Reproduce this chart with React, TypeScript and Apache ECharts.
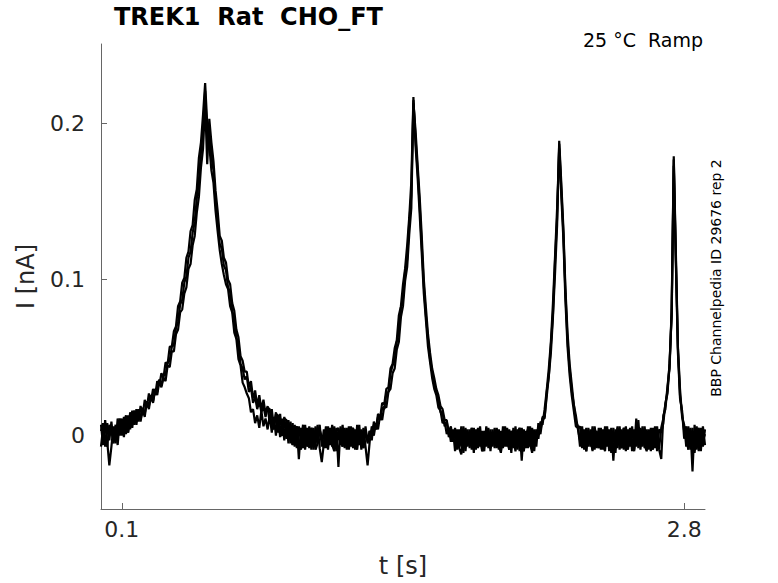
import React, { useEffect, useRef } from "react";
import * as echarts from "echarts";

// Sampling interval of the recorded sweeps (s)
const SAMPLE_DT = 0.01;

// Tick values shown on the axes
const X_TICKS = [0.1, 2.8];
const Y_TICKS = [0, 0.1, 0.2];

// Texts
const TITLE = "TREK1  Rat  CHO_FT";
const CONDITION = "25 °C  Ramp";
const SOURCE = "BBP Channelpedia ID 29676 rep 2";
const X_NAME = "t [s]";
const Y_NAME = "I [nA]";

// Current (nA) of sweep A, read every SAMPLE_DT from t = 0 to 2.90 s
const sweepA = [
  0.007, -0.006, 0.010, -0.004, -0.019, -0.007, 0.006, -0.005, 0.011, 0.000,
  0.011, -0.001, 0.012, 0.002, 0.015, 0.005, 0.016, 0.007, 0.017, 0.010,
  0.018, 0.012, 0.022, 0.017, 0.026, 0.021, 0.030, 0.026, 0.035, 0.031,
  0.037, 0.035, 0.045, 0.044, 0.054, 0.054, 0.065, 0.068, 0.079, 0.081,
  0.091, 0.095, 0.107, 0.110, 0.122, 0.128, 0.143, 0.153, 0.172, 0.184,
  0.213, 0.174, 0.203, 0.188, 0.176, 0.157, 0.144, 0.128, 0.125, 0.114,
  0.111, 0.100, 0.097, 0.085, 0.080, 0.068, 0.063, 0.051, 0.048, 0.041,
  0.041, 0.031, 0.035, 0.024, 0.029, 0.019, 0.026, 0.017, 0.023, 0.014,
  0.019, 0.008, 0.017, 0.005, 0.015, 0.002, 0.014, 0.000, 0.012, -0.002,
  0.010, -0.005, 0.008, -0.007, 0.006, -0.015, 0.005, -0.008, 0.007, -0.006,
  0.006, -0.009, 0.005, -0.006, 0.007, -0.008, -0.017, -0.005, 0.006, -0.009,
  0.005, -0.007, 0.006, -0.010, 0.004, -0.006, 0.007, -0.008, 0.005, -0.007,
  0.006, -0.008, 0.004, -0.006, 0.007, -0.009, 0.005, -0.007, -0.019, -0.004,
  0.006, 0.000, 0.008, 0.004, 0.013, 0.010, 0.019, 0.018, 0.028, 0.030,
  0.040, 0.043, 0.055, 0.060, 0.076, 0.083, 0.099, 0.108, 0.129, 0.146,
  0.213, 0.196, 0.174, 0.153, 0.128, 0.100, 0.082, 0.065, 0.053, 0.043,
  0.037, 0.030, 0.026, 0.019, 0.017, 0.010, 0.010, 0.002, 0.006, -0.004,
  0.005, -0.009, 0.004, -0.007, 0.006, -0.010, 0.004, -0.008, 0.005, -0.011,
  0.004, -0.008, 0.006, -0.009, 0.003, -0.007, 0.005, -0.010, 0.004, -0.008,
  0.005, -0.009, 0.003, -0.008, 0.006, -0.007, 0.004, -0.011, 0.005, -0.008,
  0.004, -0.010, 0.005, -0.007, 0.003, -0.008, 0.006, -0.009, 0.004, -0.007,
  0.008, 0.003, 0.012, 0.012, 0.025, 0.038, 0.053, 0.076, 0.104, 0.135,
  0.189, 0.162, 0.133, 0.094, 0.066, 0.046, 0.033, 0.020, 0.013, 0.004,
  -0.003, 0.006, -0.009, 0.005, -0.007, 0.004, -0.010, 0.006, -0.008, 0.005,
  -0.009, 0.004, -0.007, 0.006, -0.010, 0.005, -0.016, 0.004, -0.008, 0.006,
  -0.008, 0.005, -0.010, 0.004, -0.007, 0.006, -0.009, 0.011, -0.008, 0.005,
  -0.007, 0.006, -0.009, 0.004, -0.010, 0.005, -0.008, 0.006, -0.009, -0.015,
  0.013, 0.017, 0.032, 0.043, 0.082, 0.179, 0.118, 0.057, 0.030, 0.012,
  0.007, -0.007, 0.006, -0.009, 0.005, -0.008, 0.006, -0.010, 0.005, -0.007,
  0.004,
];

// Current (nA) of sweep B, same sampling
const sweepB = [
  -0.007, 0.005, -0.007, 0.008, -0.003, 0.009, -0.004, 0.007, -0.006, 0.010,
  0.000, 0.012, 0.001, 0.013, 0.004, 0.016, 0.007, 0.017, 0.009, 0.019,
  0.013, 0.023, 0.018, 0.027, 0.022, 0.030, 0.026, 0.035, 0.032, 0.040,
  0.037, 0.047, 0.046, 0.057, 0.057, 0.067, 0.070, 0.083, 0.086, 0.098,
  0.101, 0.114, 0.118, 0.131, 0.135, 0.151, 0.158, 0.178, 0.188, 0.206,
  0.226, 0.200, 0.186, 0.170, 0.162, 0.144, 0.131, 0.119, 0.110, 0.103,
  0.097, 0.094, 0.083, 0.079, 0.066, 0.062, 0.049, 0.045, 0.034, 0.031,
  0.027, 0.024, 0.015, 0.017, 0.008, 0.013, 0.005, 0.016, 0.006, 0.011,
  0.004, 0.013, 0.002, 0.012, 0.000, 0.013, -0.001, 0.011, -0.003, 0.010,
  -0.005, 0.009, -0.006, 0.007, -0.008, 0.006, -0.004, 0.007, -0.009, 0.005,
  -0.008, 0.005, -0.009, 0.006, -0.005, 0.007, -0.007, 0.004, -0.008, 0.006,
  -0.006, 0.007, -0.008, 0.005, -0.020, 0.006, -0.007, 0.005, -0.009, 0.006,
  -0.007, 0.005, -0.009, 0.007, -0.006, 0.004, -0.008, 0.006, -0.005, 0.003,
  -0.003, 0.009, 0.004, 0.014, 0.011, 0.021, 0.020, 0.030, 0.031, 0.043,
  0.046, 0.056, 0.061, 0.077, 0.083, 0.097, 0.107, 0.122, 0.140, 0.163,
  0.217, 0.186, 0.166, 0.142, 0.117, 0.091, 0.074, 0.057, 0.047, 0.037,
  0.030, 0.026, 0.018, 0.016, 0.008, 0.009, 0.001, 0.005, -0.004, 0.004,
  -0.010, 0.004, -0.008, 0.006, -0.011, 0.005, -0.007, 0.004, -0.009, 0.005,
  -0.009, 0.005, -0.007, 0.003, -0.010, 0.006, -0.008, 0.004, -0.007, 0.005,
  -0.008, 0.004, -0.010, 0.006, -0.007, 0.005, -0.009, 0.003, -0.008, 0.006,
  -0.009, 0.005, -0.016, 0.004, -0.008, 0.006, -0.007, 0.005, -0.010, 0.004,
  -0.002, 0.009, 0.007, 0.017, 0.029, 0.043, 0.060, 0.085, 0.115, 0.146,
  0.184, 0.154, 0.126, 0.086, 0.057, 0.039, 0.026, 0.016, 0.006, 0.005,
  0.006, -0.008, 0.004, -0.010, 0.005, -0.007, 0.006, -0.009, 0.003, -0.008,
  0.005, -0.009, 0.006, -0.007, 0.004, -0.011, 0.005, -0.008, 0.006, -0.009,
  0.004, -0.009, 0.006, -0.008, 0.005, -0.010, 0.004, -0.007, 0.010, -0.009,
  0.006, -0.008, 0.004, -0.009, 0.005, -0.007, 0.006, -0.010, 0.004, 0.002,
  0.008, 0.021, 0.027, 0.047, 0.077, 0.173, 0.111, 0.053, 0.024, 0.016,
  -0.002, 0.006, -0.008, 0.005, -0.023, 0.007, -0.009, 0.004, -0.010, 0.006,
  -0.006,
];

// Current (nA) of sweep C, same sampling
const sweepC = [
  0.003, 0.008, -0.004, -0.007, 0.007, 0.003, -0.005, 0.006, 0.000, 0.011,
  0.001, 0.008, 0.013, 0.002, 0.010, 0.007, 0.016, 0.010, 0.017, 0.009,
  0.017, 0.014, 0.022, 0.019, 0.026, 0.022, 0.029, 0.028, 0.036, 0.032,
  0.039, 0.039, 0.047, 0.048, 0.057, 0.058, 0.069, 0.073, 0.084, 0.087,
  0.098, 0.102, 0.114, 0.118, 0.130, 0.137, 0.152, 0.163, 0.182, 0.196,
  0.221, 0.190, 0.194, 0.179, 0.170, 0.150, 0.138, 0.123, 0.120, 0.109,
  0.106, 0.095, 0.092, 0.080, 0.075, 0.063, 0.058, 0.046, 0.043, 0.036,
  0.038, 0.028, 0.031, 0.021, 0.025, 0.017, 0.022, 0.015, 0.019, 0.012,
  0.018, 0.017, 0.006, 0.004, 0.014, 0.013, 0.001, 0.000, 0.011, 0.010,
  0.008, 0.000, -0.006, 0.003, 0.006, -0.005, -0.009, 0.001, 0.005, -0.007,
  -0.004, 0.005, 0.000, -0.009, -0.005, 0.004, -0.001, -0.008, 0.003, -0.003,
  0.004, -0.006, -0.010, 0.003, 0.005, -0.003, -0.007, 0.003, 0.000, -0.009,
  0.001, 0.005, -0.005, -0.009, 0.003, -0.001, -0.008, 0.004, -0.004, 0.003,
  0.000, 0.007, 0.004, 0.012, 0.010, 0.018, 0.017, 0.027, 0.028, 0.040,
  0.045, 0.048, 0.060, 0.067, 0.082, 0.088, 0.105, 0.113, 0.137, 0.154,
  0.215, 0.191, 0.170, 0.148, 0.122, 0.096, 0.077, 0.062, 0.049, 0.041,
  0.034, 0.027, 0.024, 0.015, 0.015, 0.006, 0.009, -0.001, 0.004, -0.004,
  0.003, -0.002, -0.008, -0.012, 0.000, 0.004, -0.006, -0.003, 0.005, -0.009,
  -0.005, 0.004, -0.001, -0.010, -0.007, 0.005, -0.002, -0.008, 0.002, -0.004,
  0.004, -0.006, -0.011, 0.000, 0.005, -0.003, -0.009, 0.003, -0.001, -0.010,
  0.002, 0.005, -0.007, -0.010, 0.000, 0.004, -0.005, -0.011, 0.003, -0.001,
  0.005, 0.001, 0.011, 0.011, 0.028, 0.038, 0.058, 0.078, 0.112, 0.140,
  0.187, 0.158, 0.130, 0.091, 0.061, 0.043, 0.029, 0.020, 0.009, 0.006,
  -0.007, 0.004, -0.001, -0.010, 0.002, -0.004, -0.009, 0.005, 0.000, -0.008,
  0.003, -0.005, -0.010, 0.004, 0.000, -0.008, 0.002, -0.011, 0.005, -0.003,
  -0.008, 0.005, -0.001, -0.009, 0.003, -0.004, -0.010, 0.004, 0.001, -0.007,
  0.004, -0.006, -0.010, 0.003, -0.001, -0.009, 0.005, -0.005, -0.008, 0.005,
  0.011, 0.020, 0.029, 0.046, 0.079, 0.177, 0.114, 0.056, 0.026, 0.014,
  0.003, -0.001, -0.009, 0.004, -0.005, -0.011, 0.002, 0.005, -0.007, -0.003,
  0.001,
];

const SWEEPS = [sweepA, sweepB, sweepC];

const FONT = "DejaVu Sans";
const AXIS_COLOR = "#666666";
const TEXT_COLOR = "#262626";

export default function App() {
  const ref = useRef<HTMLDivElement>(null);

  useEffect(() => {
    if (!ref.current) return;
    const chart = echarts.init(ref.current, null, { renderer: "svg" });

    const series = SWEEPS.map((sw, k) => ({
      type: "line",
      name: "sweep " + (k + 1),
      data: sw.map((v, i) => [i * SAMPLE_DT, v]),
      showSymbol: false,
      symbol: "none",
      lineStyle: { color: "#000000", width: 2.2 },
      silent: true,
    }));

    chart.setOption({
      animation: false,
      backgroundColor: "#ffffff",
      title: {
        text: TITLE,
        left: 114,
        top: 5,
        padding: 0,
        textStyle: {
          fontFamily: FONT,
          fontSize: 24,
          fontWeight: "bold",
          color: "#000000",
        },
      },
      grid: { left: 101, right: 73, top: 44, bottom: 71, containLabel: false },
      xAxis: {
        type: "value",
        min: 0,
        max: 2.9,
        name: X_NAME,
        nameLocation: "middle",
        nameGap: 45,
        nameTextStyle: { fontFamily: FONT, fontSize: 24, color: TEXT_COLOR },
        axisLine: {
          show: true,
          onZero: false,
          lineStyle: { color: AXIS_COLOR, width: 1 },
        },
        axisTick: {
          show: true,
          inside: true,
          length: 6,
          customValues: X_TICKS,
          lineStyle: { color: AXIS_COLOR },
        },
        axisLabel: {
          customValues: X_TICKS,
          fontFamily: FONT,
          fontSize: 22,
          color: TEXT_COLOR,
          margin: 9,
        },
        splitLine: { show: false },
      },
      yAxis: {
        type: "value",
        min: -0.047,
        max: 0.251,
        name: Y_NAME,
        nameLocation: "middle",
        nameGap: 63,
        nameTextStyle: { fontFamily: FONT, fontSize: 24, color: TEXT_COLOR },
        axisLine: {
          show: true,
          onZero: false,
          lineStyle: { color: AXIS_COLOR, width: 1 },
        },
        axisTick: {
          show: true,
          inside: true,
          length: 6,
          customValues: Y_TICKS,
          lineStyle: { color: AXIS_COLOR },
        },
        axisLabel: {
          customValues: Y_TICKS,
          fontFamily: FONT,
          fontSize: 22,
          color: TEXT_COLOR,
          margin: 16,
        },
        splitLine: { show: false },
      },
      graphic: [
        {
          type: "text",
          right: 75,
          top: 30,
          style: {
            text: CONDITION,
            fontFamily: FONT,
            fontSize: 19,
            fill: "#000000",
          },
        },
        {
          type: "text",
          x: 716,
          y: 278,
          rotation: Math.PI / 2,
          style: {
            text: SOURCE,
            fontFamily: FONT,
            fontSize: 14,
            fill: "#000000",
            align: "center",
            verticalAlign: "middle",
          },
        },
      ],
      series,
    });

    return () => chart.dispose();
  }, []);

  return (
    <div
      ref={ref}
      style={{ position: "fixed", left: 0, top: 0, width: 778, height: 583 }}
    />
  );
}
